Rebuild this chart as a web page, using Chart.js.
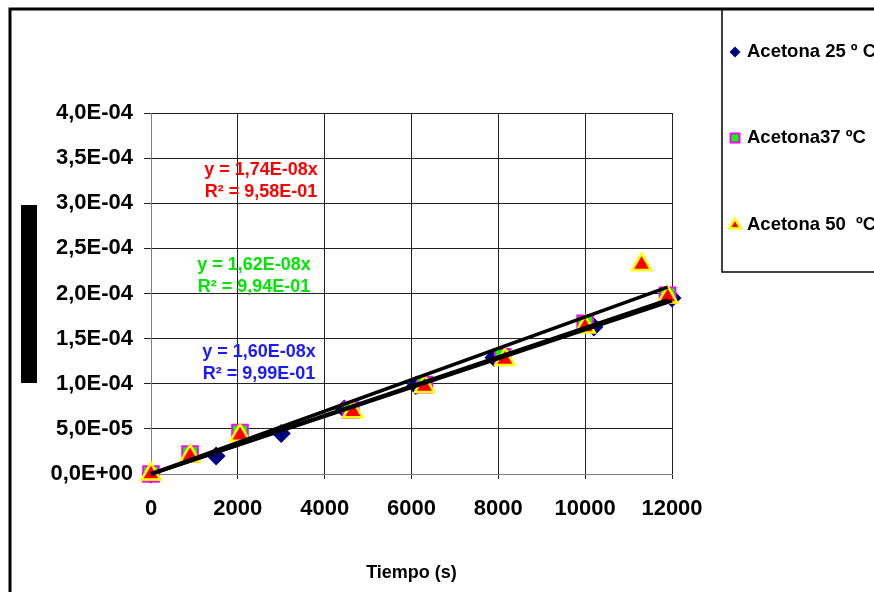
<!DOCTYPE html>
<html>
<head>
<meta charset="utf-8">
<script src="https://cdn.jsdelivr.net/npm/chart.js@4.4.0/dist/chart.umd.min.js"></script>
<style>
html, body { margin: 0; padding: 0; background: #fff; }
</style>
</head>
<body>
<canvas id="grafico" width="874" height="592"></canvas>
<script>
// ---- Datos ----
const tiempo25 = [0, 1500, 3000, 4450, 6100, 7900, 10200, 12000];
const acetona25 = [0, 2.0e-5, 4.5e-5, 7.2e-5, 9.8e-5, 1.29e-4, 1.63e-4, 1.95e-4];

const tiempo37 = [0, 900, 2050, 4600, 6300, 8100, 10000, 11900];
const acetona37 = [0, 2.2e-5, 4.6e-5, 7.1e-5, 9.9e-5, 1.30e-4, 1.67e-4, 1.98e-4];

const tiempo50 = [0, 900, 2050, 4650, 6300, 8150, 10000, 11300, 11900];
const acetona50 = [0, 2.0e-5, 4.3e-5, 6.9e-5, 9.7e-5, 1.27e-4, 1.63e-4, 2.32e-4, 1.96e-4];

const series = ['Acetona 25 º C', 'Acetona37 ºC', 'Acetona 50  ºC'];
const pendientes = [1.60e-8, 1.62e-8, 1.74e-8];
const xFinal = [12000, 11900, 11900];
const ecuaciones = ['y = 1,60E-08x', 'y = 1,62E-08x', 'y = 1,74E-08x'];
const r2 = ['R² = 9,99E-01', 'R² = 9,94E-01', 'R² = 9,58E-01'];
const colorEc = ['#1a1aff', '#00e600', '#ff0000'];

const fuente = 'Arial, "Liberation Sans", sans-serif';

function formatoE(v) {
    const partes = Number(v).toExponential(1).split('e');
    const exp = parseInt(partes[1], 10);
    return partes[0].replace('.', ',') + 'E' + (exp < 0 ? '-' : '+') + String(Math.abs(exp)).padStart(2, '0');
}

const puntos = (xs, ys) => xs.map((x, i) => ({ x: x, y: ys[i] }));

// ---- Extras: marco, bloque del eje, ecuaciones, leyenda ----
const extras = {
    id: 'extras',
    beforeDraw(chart) {
        const ctx = chart.ctx;
        ctx.save();
        ctx.fillStyle = '#fff';
        ctx.fillRect(0, 0, chart.width, chart.height);
        ctx.restore();
    },
    afterDraw(chart) {
        const ctx = chart.ctx;
        ctx.save();
        ctx.strokeStyle = '#000';
        ctx.lineWidth = 3;
        ctx.strokeRect(10, 9, 900, 700);

        ctx.fillStyle = '#000';
        ctx.fillRect(21, 205, 16, 178);

        // ecuaciones de tendencia
        const cx = [259, 254, 261];
        const cy = [352, 265, 170];
        ctx.font = 'bold 18px ' + fuente;
        ctx.textAlign = 'center';
        ctx.textBaseline = 'middle';
        for (let i = 0; i < 3; i++) {
            ctx.fillStyle = colorEc[i];
            ctx.fillText(ecuaciones[i], cx[i], cy[i]);
            ctx.fillText(r2[i], cx[i], cy[i] + 22);
        }

        // leyenda
        ctx.lineWidth = 1.5;
        ctx.strokeStyle = '#000';
        ctx.strokeRect(722, 9, 200, 263);
        const ly = [52, 138, 225];
        const radios = [5.5, 6.3, 6.5];
        ctx.font = 'bold 18.5px ' + fuente;
        ctx.textAlign = 'left';
        for (let i = 0; i < 3; i++) {
            const ds = chart.data.datasets[3 + i];
            ctx.fillStyle = ds.backgroundColor;
            ctx.strokeStyle = ds.borderColor;
            ctx.lineWidth = ds.borderWidth;
            Chart.helpers.drawPoint(ctx, { pointStyle: ds.pointStyle, radius: radios[i], rotation: 0, borderWidth: ds.borderWidth }, 735, ly[i]);
            ctx.fillStyle = '#000';
            ctx.fillText(series[i], 747, ly[i]);
        }
        ctx.restore();
    }
};

const tendencias = pendientes.map((m, i) => ({
    label: 'tendencia ' + series[i],
    data: [{ x: 0, y: 0 }, { x: xFinal[i], y: m * xFinal[i] }],
    showLine: true,
    borderColor: '#000',
    borderWidth: 3.5,
    pointRadius: 0,
    clip: false,
    order: 0
}));

new Chart(document.getElementById('grafico'), {
    type: 'scatter',
    data: {
        datasets: [
            ...tendencias,
            {
                label: series[0],
                data: puntos(tiempo25, acetona25),
                pointStyle: 'rectRot',
                pointRadius: 9.5,
                backgroundColor: '#000080',
                borderColor: '#000080',
                borderWidth: 0,
                clip: false,
                order: 3
            },
            {
                label: series[1],
                data: puntos(tiempo37, acetona37),
                pointStyle: 'rect',
                pointRadius: 11,
                backgroundColor: '#00ff00',
                borderColor: '#ff00ff',
                borderWidth: 2,
                clip: false,
                order: 2
            },
            {
                label: series[2],
                data: puntos(tiempo50, acetona50),
                pointStyle: 'triangle',
                pointRadius: 11,
                backgroundColor: '#ff0000',
                borderColor: '#ffff00',
                borderWidth: 2.5,
                clip: false,
                order: 1
            }
        ]
    },
    options: {
        responsive: false,
        animation: false,
        layout: { padding: { left: 0, top: 113, right: 202, bottom: 0 } },
        plugins: {
            legend: { display: false },
            tooltip: { enabled: false }
        },
        scales: {
            x: {
                type: 'linear',
                min: 0,
                max: 12000,
                ticks: {
                    stepSize: 2000,
                    color: '#000',
                    padding: 17,
                    maxRotation: 0,
                    font: { family: fuente, size: 22, weight: 'bold' },
                    callback: v => String(v)
                },
                grid: { color: '#222', tickLength: 5 },
                border: { color: '#808080' },
                title: {
                    display: true,
                    text: 'Tiempo (s)',
                    color: '#000',
                    font: { family: fuente, size: 18, weight: 'bold' },
                    padding: { top: 0, bottom: 8 }
                },
                afterFit(s) { s.height = 118; }
            },
            y: {
                min: 0,
                max: 4e-4,
                ticks: {
                    stepSize: 5e-5,
                    color: '#000',
                    padding: 11,
                    font: { family: fuente, size: 22, weight: 'bold' },
                    callback: v => formatoE(v)
                },
                grid: { color: '#222', tickLength: 7 },
                border: { color: '#808080' },
                afterFit(s) { s.width = 151; }
            }
        }
    },
    plugins: [extras]
});
</script>
</body>
</html>
